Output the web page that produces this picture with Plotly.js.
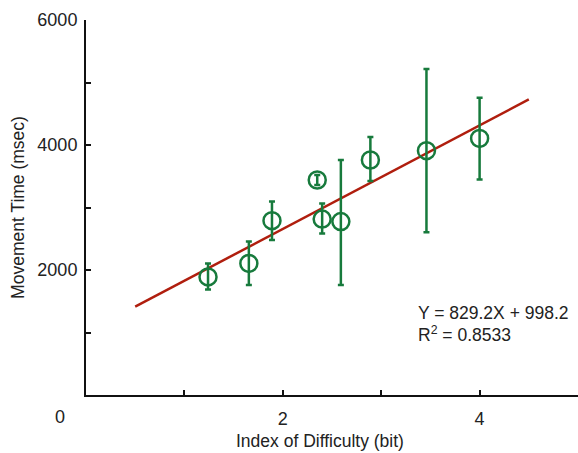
<!DOCTYPE html>
<html>
<head>
<meta charset="utf-8">
<script src="https://cdn.plot.ly/plotly-3.0.1.min.js"></script>
<style>html,body{margin:0;padding:0;background:#fff;}#chart{width:578px;height:453px;}</style>
</head>
<body>
<div id="chart"></div>
<script>
// Data
const idBits = [1.24, 1.655, 1.89, 2.35, 2.40, 2.59, 2.89, 3.46, 4.00];
const mtMean = [1890, 2105, 2790, 3440, 2815, 2775, 3760, 3910, 4105];
const errPlus = [215, 350, 305, 80, 250, 985, 370, 1305, 650];
const errMinus = [200, 345, 310, 80, 230, 1015, 335, 1305, 655];
const slope = 829.2;
const intercept = 998.2;
const fitX = [0.5, 4.5];
const fitY = fitX.map(x => slope * x + intercept);
const yTickVals = [2000, 4000, 6000];
const yMinorVals = [1000, 3000, 5000];
const xTickVals = [2, 4];
const xMinorVals = [1, 3];

const green = '#177a3c';
const red = '#b01e0e';
const font = 'Liberation Sans, Arial, sans-serif';

const traces = [
  {x: fitX, y: fitY, mode: 'lines', line: {color: red, width: 2.5}, hoverinfo: 'skip'},
  {x: idBits, y: mtMean, mode: 'markers',
   marker: {symbol: 'circle-open', size: 17, color: green, line: {width: 2.5, color: green}},
   error_y: {type: 'data', symmetric: false, array: errPlus, arrayminus: errMinus,
             color: green, thickness: 2.5, width: 3}}
];

const minorStyle = {ticks: 'inside', ticklen: 5, tickwidth: 2, tickcolor: '#111', showgrid: false};

const layout = {
  width: 578, height: 453,
  margin: {l: 86, r: 0, t: 20, b: 58},
  paper_bgcolor: '#fff', plot_bgcolor: '#fff',
  showlegend: false,
  font: {family: font, size: 18, color: '#222'},
  xaxis: {range: [0, 5], showgrid: false, zeroline: false, showline: true, linecolor: '#111', linewidth: 2,
          ticks: 'inside', ticklen: 5, tickwidth: 2, tickcolor: '#111', ticklabelstandoff: 6,
          tickmode: 'array', tickvals: xTickVals,
          minor: Object.assign({tickmode: 'array', tickvals: xMinorVals}, minorStyle)},
  yaxis: {range: [0, 6000], showgrid: false, zeroline: false, showline: true, linecolor: '#111', linewidth: 2,
          ticks: 'inside', ticklen: 5, tickwidth: 2, tickcolor: '#111', ticklabelstandoff: 3,
          tickmode: 'array', tickvals: yTickVals,
          minor: Object.assign({tickmode: 'array', tickvals: yMinorVals}, minorStyle),
          title: {text: 'Movement Time (msec)', font: {size: 17.5}, standoff: 8}},
  annotations: [
    {xref: 'paper', yref: 'paper', x: -0.053, y: 0, yshift: -22, text: '0', showarrow: false, xanchor: 'center', yanchor: 'middle'},
    {xref: 'paper', yref: 'paper', x: (320 - 86) / 492, y: 0, yshift: -46, text: 'Index of Difficulty (bit)', showarrow: false, xanchor: 'center', yanchor: 'middle', font: {size: 17.5}},
    {xref: 'x', yref: 'y', x: 3.35, y: 1310, yshift: 0, text: 'Y = 829.2X + 998.2', showarrow: false, xanchor: 'left', yanchor: 'middle', font: {size: 17.5}},
    {xref: 'x', yref: 'y', x: 3.35, y: 1310, yshift: -21, text: 'R<sup>2</sup> = 0.8533', showarrow: false, xanchor: 'left', yanchor: 'middle', font: {size: 17.5}}
  ]
};

Plotly.newPlot('chart', traces, layout, {displayModeBar: false, staticPlot: true});
</script>
</body>
</html>
